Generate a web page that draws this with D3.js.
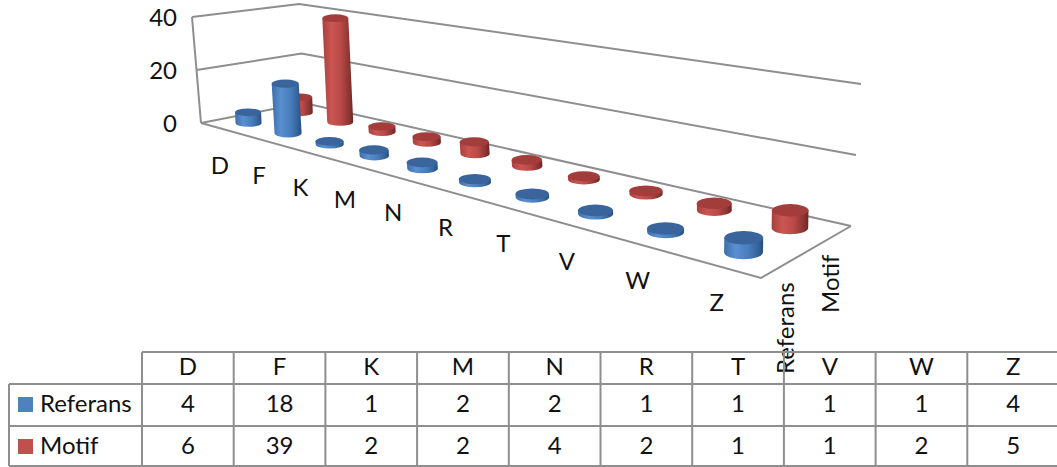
<!DOCTYPE html>
<html><head><meta charset="utf-8">
<script src="https://cdnjs.cloudflare.com/ajax/libs/d3/7.8.5/d3.min.js"></script>
<style>html,body{margin:0;padding:0;background:#fff}svg{display:block}text{font-family:Lato,"Open Sans",sans-serif;fill:#111}</style>
</head><body><svg width="1057" height="467"></svg>
<script>
const categories = ["D","F","K","M","N","R","T","V","W","Z"];
const seriesNames = ["Referans","Motif"];
const referans = [4,18,1,2,2,1,1,1,1,4];
const motif = [6,39,2,2,4,2,1,1,2,5];
const valueTicks = [0,20,40];
const seriesColors = {Referans:"#4f81bd",Motif:"#c0504d"};

const svg = d3.select("svg");
const W=1057;
const defs = svg.append("defs");
function grad(id,stops){const g=defs.append("linearGradient").attr("id",id);stops.forEach(s=>g.append("stop").attr("offset",s[0]).attr("stop-color",s[1]));}
grad("gMotif",[[0,"#a8403e"],[.3,"#cb5552"],[.6,"#b84a47"],[.88,"#8a3331"],[1,"#6a2625"]]);
grad("gReferans",[[0,"#3c6ea8"],[.3,"#5a8fd0"],[.6,"#4a7fbe"],[.88,"#336299"],[1,"#274d7c"]]);
const topColors={Motif:"#a23d3b",Referans:"#3a659c"};

function homography(p0,p1,p2,p3){
  const sx=p0[0]-p1[0]+p2[0]-p3[0], sy=p0[1]-p1[1]+p2[1]-p3[1];
  const d1x=p1[0]-p2[0], d1y=p1[1]-p2[1], d2x=p3[0]-p2[0], d2y=p3[1]-p2[1];
  const det=d1x*d2y-d2x*d1y;
  const g=(sx*d2y-d2x*sy)/det, h=(d1x*sy-sx*d1y)/det;
  const a=p1[0]-p0[0]+g*p1[0], b=p3[0]-p0[0]+h*p3[0], c=p0[0];
  const d=p1[1]-p0[1]+g*p1[1], e=p3[1]-p0[1]+h*p3[1], f=p0[1];
  return (u,v)=>{const w=g*u+h*v+1;return [(a*u+b*v+c)/w,(d*u+e*v+f)/w,w];};
}
const floor = homography([201,123],[761,278],[851,226],[304,103]);
const ceil  = homography([192,17],[772,126],[861,84],[299,4]);
const yFrac = d3.scaleLinear().domain([0,40]).range([0,1]);
function proj(u,v,val){
  const a=floor(u,v), b=ceil(u,v), t=yFrac(val);
  return [a[0]+(b[0]-a[0])*t, a[1]+(b[1]-a[1])*t, a[2]];
}
const xBand = d3.scaleBand().domain(categories).range([0,1]);
const xWarp = d3.scalePow().exponent(0.95).domain([0,1]).range([0,1]);
const xCenter = c => xWarp(xBand(c)+xBand.bandwidth()/2);
const zBand = d3.scaleBand().domain(seriesNames).range([0,1]);
const lineGen = d3.line();
const xy = p => p.slice(0,2);
const grid = svg.append("g").attr("fill","none").attr("stroke","#8e8e8e").attr("stroke-width",2);
valueTicks.forEach(t=>{
  grid.append("path").attr("d",lineGen([proj(0,0,t),proj(0,1,t),proj(1,1,t)].map(xy)));
});
grid.append("path").attr("d",lineGen([proj(0,0,0),proj(0,0,40)].map(xy)));
grid.append("path").attr("d",lineGen([proj(0,0,0),proj(1,0,0),proj(1,1,0)].map(xy)));

const marks = svg.append("g");
[["Motif",motif],["Referans",referans]].forEach(([name,vals])=>{
  vals.forEach((val,i)=>{
    const u=xCenter(categories[i]), v=zBand(name)+zBand.bandwidth()/2;
    const b=proj(u,v,0), t0=proj(u,v,val);
    const tx=b[0]+(t0[0]-b[0])*0.5, ty=t0[1];
    const rx=13/Math.pow(b[2],0.9), ry=rx*(0.22+0.08/b[2]);
    const g=marks.append("g");
    g.append("path").attr("fill",`url(#g${name})`)
     .attr("d",`M${tx-rx},${ty} L${b[0]-rx},${b[1]} A${rx},${ry} 0 0 0 ${b[0]+rx},${b[1]} L${tx+rx},${ty} Z`);
    g.append("ellipse").attr("cx",tx).attr("cy",ty).attr("rx",rx).attr("ry",ry).attr("fill",topColors[name]);
  });
});

const fs=24;
const axisLabels=svg.append("g").attr("font-size",fs);
valueTicks.forEach(t=>{
  const p=proj(0,0,t);
  axisLabels.append("text").attr("x",177).attr("y",p[1]+9).attr("text-anchor","end").text(t);
});
categories.forEach(c=>{
  const p=proj(xCenter(c),0,0);
  axisLabels.append("text").attr("x",p[0]-1).attr("y",p[1]+45).attr("text-anchor","middle").text(c);
});
seriesNames.forEach(n=>{
  const p=proj(1,zBand(n)+zBand.bandwidth()/2,0);
  axisLabels.append("text").attr("transform",`translate(${p[0]+8},${n==="Motif"?313:374}) rotate(-90)`).text(n);
});

const colX=d3.scaleBand().domain(categories).range([142,142+91.7*10]);
const rowTops=[352,384,426,466];
const table=svg.append("g");
const tl=table.append("g").attr("stroke","#8e8e8e").attr("stroke-width",2);
tl.append("line").attr("x1",142).attr("x2",W).attr("y1",rowTops[0]).attr("y2",rowTops[0]);
rowTops.slice(1).forEach(y=>tl.append("line").attr("x1",9).attr("x2",W).attr("y1",y).attr("y2",y));
tl.append("line").attr("x1",9).attr("x2",9).attr("y1",rowTops[1]).attr("y2",rowTops[3]);
categories.forEach(c=>tl.append("line").attr("x1",colX(c)).attr("x2",colX(c)).attr("y1",rowTops[0]).attr("y2",rowTops[3]));
const tt=table.append("g").attr("font-size",fs).attr("text-anchor","middle");
categories.forEach((c,i)=>{
  const x=colX(c)+colX.bandwidth()/2;
  tt.append("text").attr("x",x).attr("y",375).text(c);
  tt.append("text").attr("x",x).attr("y",412).text(referans[i]);
  tt.append("text").attr("x",x).attr("y",454).text(motif[i]);
});
seriesNames.forEach((n,k)=>{
  const y=[412,454][k];
  table.append("rect").attr("x",18).attr("y",y-15).attr("width",15).attr("height",15).attr("fill",seriesColors[n]);
  table.append("text").attr("x",40).attr("y",y).attr("font-size",fs).text(n);
});
</script></body></html>
